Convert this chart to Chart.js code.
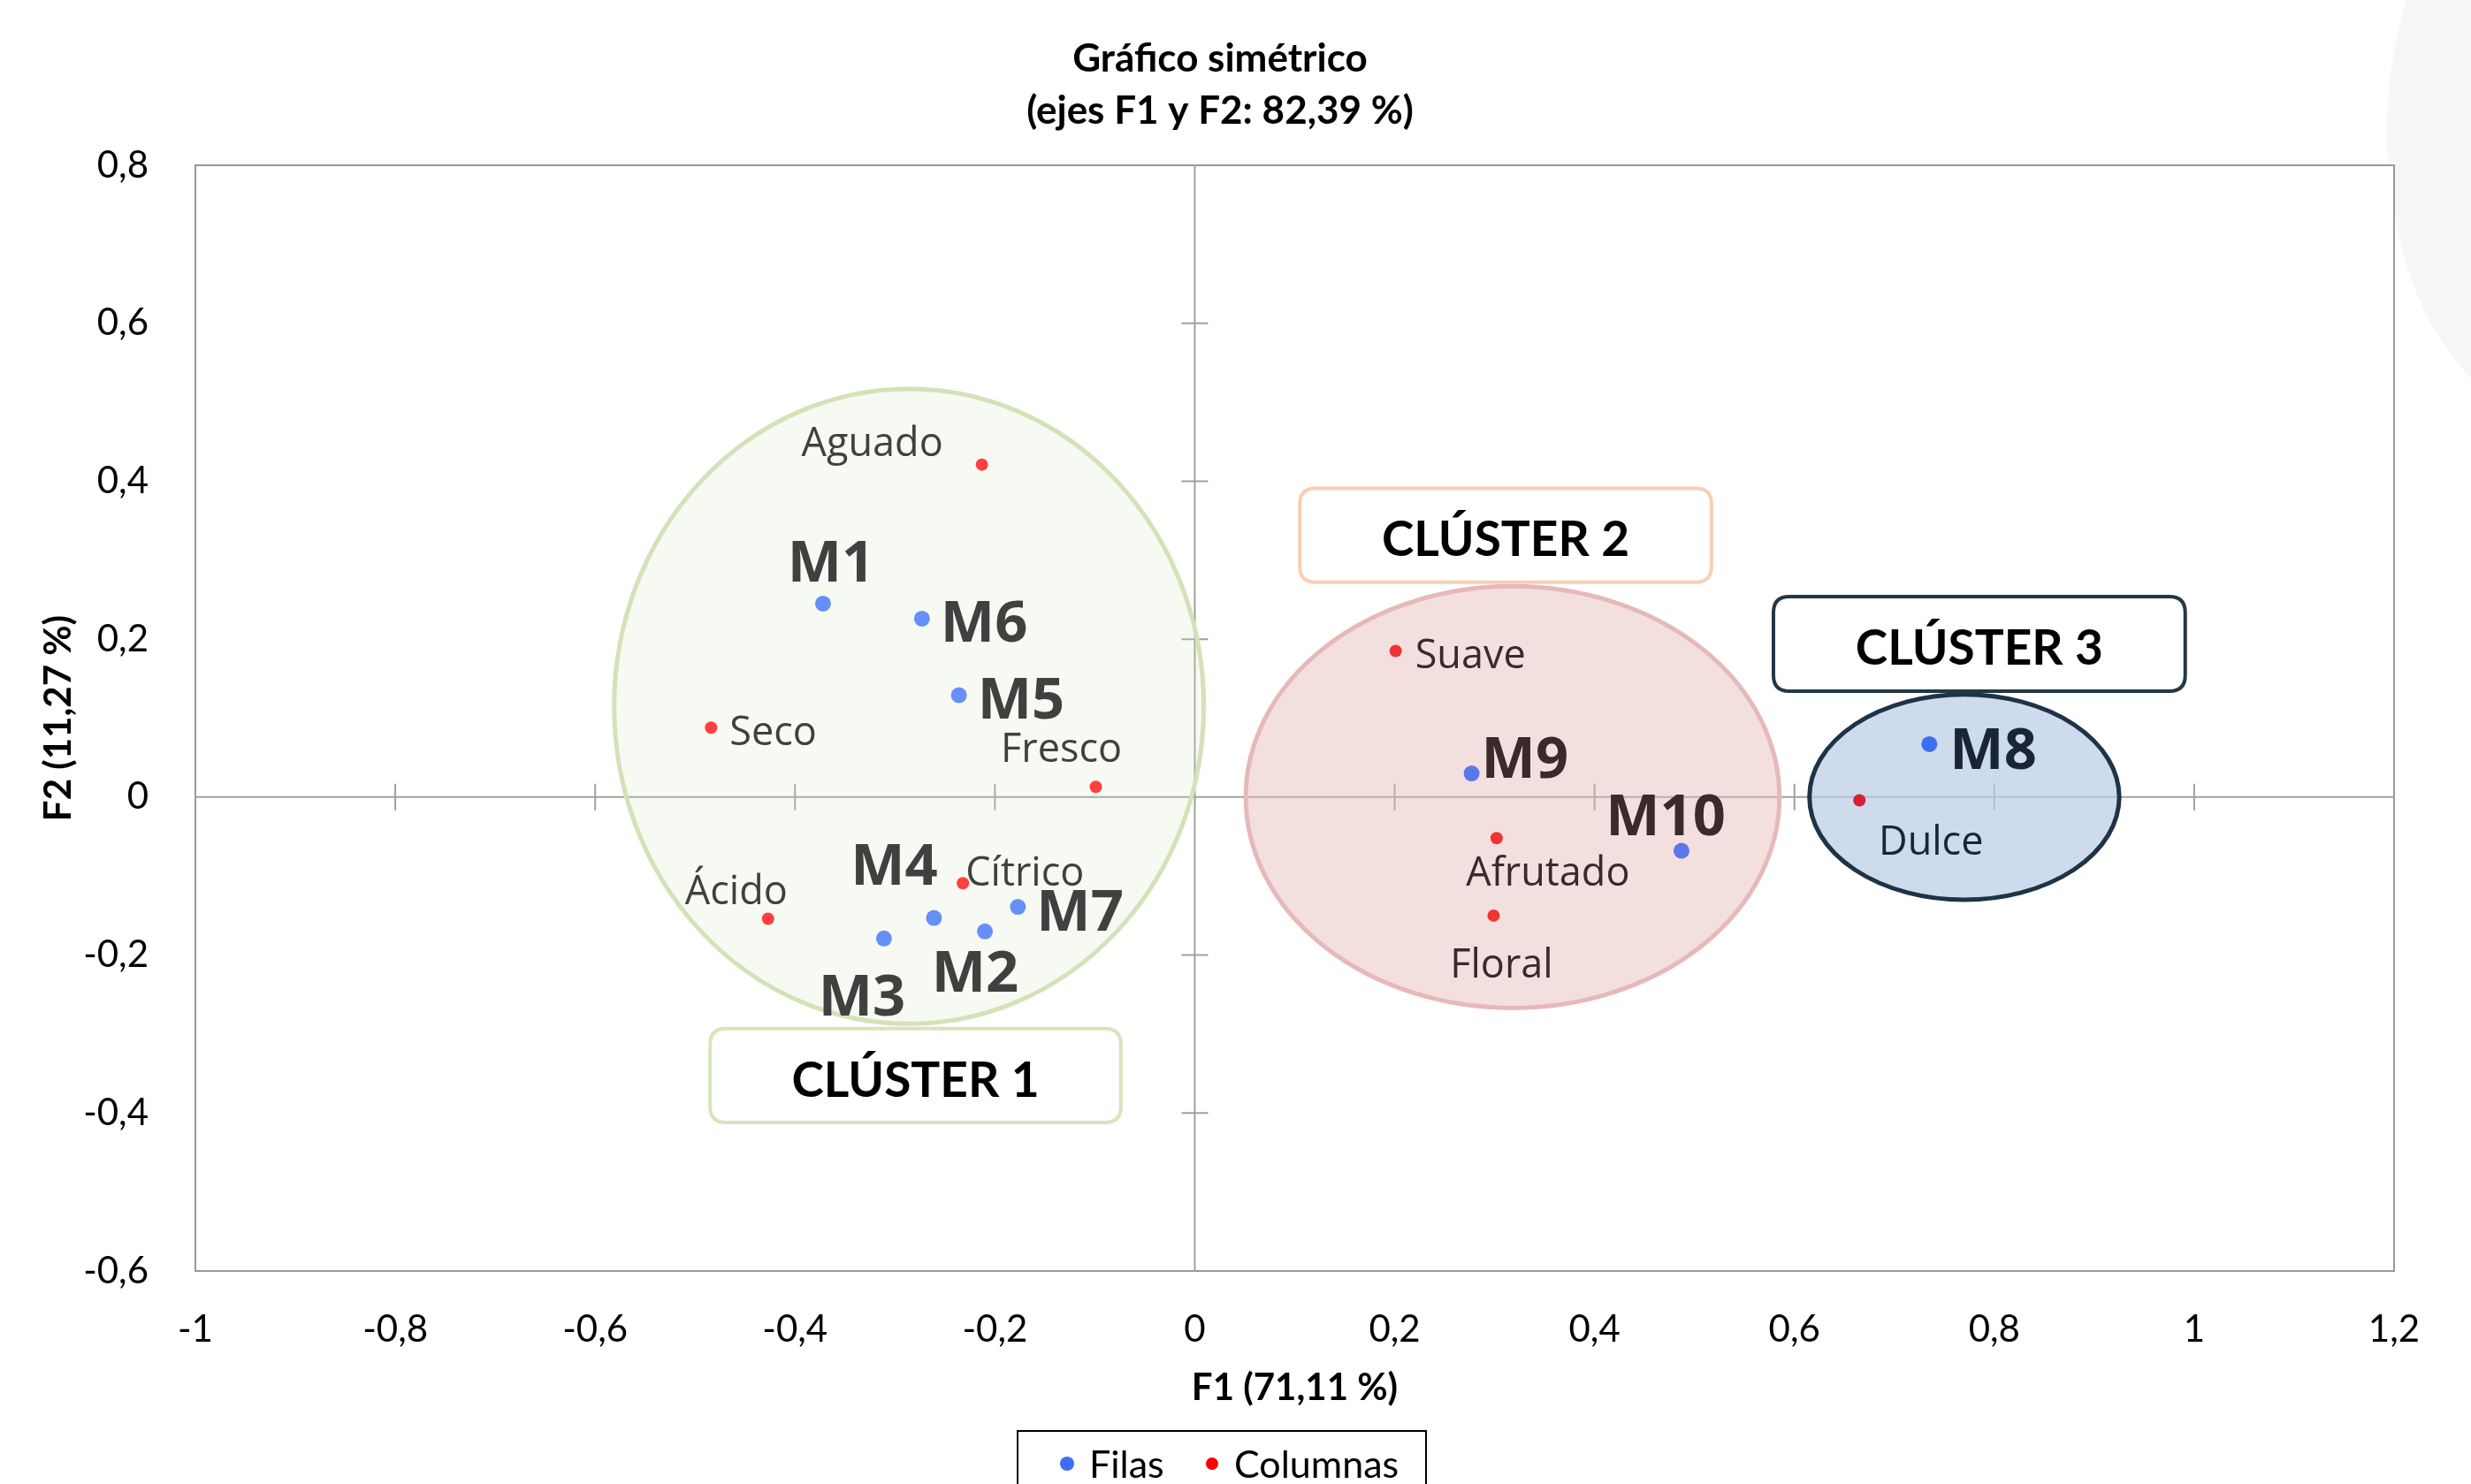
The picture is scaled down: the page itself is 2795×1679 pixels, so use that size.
<!DOCTYPE html>
<html>
<head>
<meta charset="utf-8">
<title>Gráfico simétrico</title>
<script src="https://cdn.jsdelivr.net/npm/chart.js@4.4.1/dist/chart.umd.min.js"></script>
<style>
  html, body { margin: 0; padding: 0; background: #fff; }
  canvas { display: block; }
</style>
</head>
<body>
<canvas id="chart" width="2795" height="1679"></canvas>
<script>
// Filas (muestras)
const filasLabels = ['M1', 'M2', 'M3', 'M4', 'M5', 'M6', 'M7', 'M8', 'M9', 'M10'];
const filasF1 = [-0.372, -0.210, -0.311, -0.261, -0.236, -0.273, -0.177, 0.735, 0.277, 0.487];
const filasF2 = [0.245, -0.170, -0.179, -0.153, 0.129, 0.226, -0.139, 0.067, 0.030, -0.068];
const filasCluster = [1, 1, 1, 1, 1, 1, 1, 3, 2, 2];

// Columnas (atributos)
const columnasLabels = ['Aguado', 'Seco', 'Fresco', 'Ácido', 'Cítrico', 'Suave', 'Afrutado', 'Floral', 'Dulce'];
const columnasF1 = [-0.213, -0.484, -0.099, -0.427, -0.232, 0.201, 0.302, 0.299, 0.665];
const columnasF2 = [0.421, 0.088, 0.013, -0.154, -0.109, 0.185, -0.052, -0.150, -0.004];
const columnasCluster = [1, 1, 1, 1, 1, 2, 2, 2, 3];

// ejes
const xMin = -1, xMax = 1.2, yMin = -0.6, yMax = 0.8, tickStep = 0.2;

// posición de etiquetas respecto al punto (px)
const filasLabelPos = [
  [9, -43, 'center'], [-11, 50, 'center'], [-25, 69, 'center'], [-45, -56, 'center'],
  [21, 8, 'left'], [21, 8, 'left'], [21, 8, 'left'], [23, 9, 'left'],
  [11, -14, 'left'], [-18, -36, 'center']
];
const columnasLabelPos = [
  [-124, -22, 'center'], [21, 7, 'left'], [-39, -41, 'center'], [-36, -29, 'center'],
  [3, -10, 'left'], [22, 7, 'left'], [58, 41, 'center'], [9, 57, 'center'], [81, 49, 'center']
];

// clústeres: elipse (unidades de los ejes) y recuadro del rótulo
const clusters = {
  1: { name: 'CLÚSTER 1', cx: -0.286, cy: 0.115, rx: 0.295, ry: 0.402,
       box: [-0.485, -0.293, -0.074, -0.412],
       fill: 'rgba(215,228,189,0.2)', stroke: '#d3e2b8', boxStroke: '#d7e4bd',
       blue: '#6690f8', red: '#ff4040', text: '#404040' },
  2: { name: 'CLÚSTER 2', cx: 0.318, cy: 0.0, rx: 0.267, ry: 0.267,
       box: [0.105, 0.391, 0.517, 0.272],
       fill: 'rgba(230,185,184,0.45)', stroke: '#e6b9b8', boxStroke: '#f8cfb4',
       blue: '#5a78e8', red: '#f03434', text: '#3a2a2a' },
  3: { name: 'CLÚSTER 3', cx: 0.770, cy: 0.0, rx: 0.155, ry: 0.130,
       box: [0.579, 0.254, 0.991, 0.134],
       fill: 'rgba(184,204,228,0.7)', stroke: '#1f3346', boxStroke: '#213845',
       blue: '#3c6ff0', red: '#d42030', text: '#1a2535' }
};

function fmt(v) {
  const r = Math.round(v * 10) / 10;
  return String(r).replace('.', ',');
}

function roundRect(ctx, x, y, w, h, r) {
  ctx.beginPath();
  ctx.moveTo(x + r, y);
  ctx.lineTo(x + w - r, y);
  ctx.quadraticCurveTo(x + w, y, x + w, y + r);
  ctx.lineTo(x + w, y + h - r);
  ctx.quadraticCurveTo(x + w, y + h, x + w - r, y + h);
  ctx.lineTo(x + r, y + h);
  ctx.quadraticCurveTo(x, y + h, x, y + h - r);
  ctx.lineTo(x, y + r);
  ctx.quadraticCurveTo(x, y, x + r, y);
  ctx.closePath();
}

const decor = {
  id: 'decor',
  beforeDraw(chart) {
    const ctx = chart.ctx;
    ctx.save();
    ctx.fillStyle = '#fff';
    ctx.fillRect(0, 0, chart.width, chart.height);
    // sombra gris de la esquina derecha
    ctx.fillStyle = '#f7f6f7';
    ctx.beginPath();
    ctx.ellipse(2890, 150, 190, 320, 0, 0, Math.PI * 2);
    ctx.fill();
    ctx.restore();
  },
  beforeDatasetsDraw(chart) {
    const ctx = chart.ctx, a = chart.chartArea;
    const xs = chart.scales.x, ys = chart.scales.y;
    const x0 = xs.getPixelForValue(0), y0 = ys.getPixelForValue(0);
    ctx.save();
    ctx.fillStyle = '#fff';
    ctx.fillRect(a.left, a.top, a.right - a.left, a.bottom - a.top);
    // marco
    ctx.strokeStyle = '#999';
    ctx.lineWidth = 2;
    ctx.strokeRect(a.left, a.top, a.right - a.left, a.bottom - a.top);
    // ejes en el origen
    ctx.strokeStyle = '#a0a0a0';
    ctx.lineWidth = 2;
    ctx.beginPath();
    ctx.moveTo(a.left, y0); ctx.lineTo(a.right, y0);
    ctx.moveTo(x0, a.top); ctx.lineTo(x0, a.bottom);
    xs.ticks.forEach(t => {
      if (Math.abs(t.value) < 1e-9 || t.value <= xMin + 1e-9 || t.value >= xMax - 1e-9) return;
      const px = xs.getPixelForValue(t.value);
      ctx.moveTo(px, y0 - 15); ctx.lineTo(px, y0 + 15);
    });
    ys.ticks.forEach(t => {
      if (Math.abs(t.value) < 1e-9 || t.value <= yMin + 1e-9 || t.value >= yMax - 1e-9) return;
      const py = ys.getPixelForValue(t.value);
      ctx.moveTo(x0 - 15, py); ctx.lineTo(x0 + 15, py);
    });
    ctx.stroke();
    // elipses de clústeres
    Object.values(clusters).forEach(c => {
      const cx = xs.getPixelForValue(c.cx), cy = ys.getPixelForValue(c.cy);
      const rx = Math.abs(xs.getPixelForValue(c.cx + c.rx) - cx);
      const ry = Math.abs(ys.getPixelForValue(c.cy + c.ry) - cy);
      ctx.beginPath();
      ctx.ellipse(cx, cy, rx, ry, 0, 0, Math.PI * 2);
      ctx.fillStyle = c.fill;
      ctx.fill();
      ctx.strokeStyle = c.stroke;
      ctx.lineWidth = 5;
      ctx.stroke();
    });
    ctx.restore();
  },
  afterDatasetsDraw(chart) {
    const ctx = chart.ctx, a = chart.chartArea;
    const xs = chart.scales.x, ys = chart.scales.y;
    ctx.save();
    ctx.textBaseline = 'middle';

    // etiquetas de filas
    ctx.font = 'bold 65px "Open Sans"';
    filasLabels.forEach((lab, i) => {
      const p = filasLabelPos[i];
      ctx.fillStyle = clusters[filasCluster[i]].text;
      ctx.textAlign = p[2];
      ctx.fillText(lab, xs.getPixelForValue(filasF1[i]) + p[0], ys.getPixelForValue(filasF2[i]) + p[1]);
    });
    // etiquetas de columnas
    ctx.font = '45px "Open Sans"';
    columnasLabels.forEach((lab, i) => {
      const p = columnasLabelPos[i];
      ctx.fillStyle = clusters[columnasCluster[i]].text;
      ctx.textAlign = p[2];
      ctx.fillText(lab, xs.getPixelForValue(columnasF1[i]) + p[0], ys.getPixelForValue(columnasF2[i]) + p[1]);
    });

    // recuadros de clúster
    Object.values(clusters).forEach(c => {
      const x1 = xs.getPixelForValue(c.box[0]), y1 = ys.getPixelForValue(c.box[1]);
      const x2 = xs.getPixelForValue(c.box[2]), y2 = ys.getPixelForValue(c.box[3]);
      roundRect(ctx, x1, y1, x2 - x1, y2 - y1, 18);
      ctx.fillStyle = '#fff';
      ctx.fill();
      ctx.strokeStyle = c.boxStroke;
      ctx.lineWidth = 4;
      ctx.stroke();
      ctx.fillStyle = '#000';
      ctx.font = 'bold 55px Lato';
      ctx.textAlign = 'center';
      ctx.fillText(c.name, (x1 + x2) / 2, (y1 + y2) / 2 + 6);
    });

    // título
    ctx.fillStyle = '#000';
    ctx.textAlign = 'center';
    ctx.font = 'bold 44px Lato';
    ctx.fillText('Gráfico simétrico', 1380, 67);
    ctx.fillText('(ejes F1 y F2: 82,39 %)', 1380, 126);

    // títulos de ejes
    ctx.font = 'bold 42px Lato';
    ctx.fillText('F1 (71,11 %)', (a.left + a.right) / 2, 1570);
    ctx.save();
    ctx.translate(66, (a.top + a.bottom) / 2);
    ctx.rotate(-Math.PI / 2);
    ctx.fillText('F2 (11,27 %)', 0, 0);
    ctx.restore();

    // leyenda
    ctx.strokeStyle = '#000';
    ctx.lineWidth = 2;
    ctx.strokeRect(1151, 1619, 462, 100);
    ctx.font = '43px Lato';
    ctx.textAlign = 'left';
    ctx.fillStyle = '#3d6ef5';
    ctx.beginPath(); ctx.arc(1207, 1656, 8, 0, Math.PI * 2); ctx.fill();
    ctx.fillStyle = '#ff0000';
    ctx.beginPath(); ctx.arc(1371, 1656, 7, 0, Math.PI * 2); ctx.fill();
    ctx.fillStyle = '#000';
    ctx.fillText('Filas', 1232, 1658);
    ctx.fillText('Columnas', 1396, 1658);
    ctx.restore();
  }
};

const ctx = document.getElementById('chart').getContext('2d');
new Chart(ctx, {
  type: 'scatter',
  data: {
    datasets: [
      {
        label: 'Filas',
        data: filasF1.map((x, i) => ({ x: x, y: filasF2[i] })),
        pointRadius: 9,
        pointHoverRadius: 9,
        pointBorderWidth: 0,
        pointBackgroundColor: c => clusters[filasCluster[c.dataIndex]].blue
      },
      {
        label: 'Columnas',
        data: columnasF1.map((x, i) => ({ x: x, y: columnasF2[i] })),
        pointRadius: 7,
        pointHoverRadius: 7,
        pointBorderWidth: 0,
        pointBackgroundColor: c => clusters[columnasCluster[c.dataIndex]].red
      }
    ]
  },
  options: {
    responsive: false,
    animation: false,
    devicePixelRatio: 1,
    layout: { padding: { top: 187, right: 87, left: 0, bottom: 0 } },
    plugins: {
      legend: { display: false },
      tooltip: { enabled: false }
    },
    scales: {
      x: {
        type: 'linear',
        min: xMin, max: xMax,
        grid: { display: false },
        border: { display: false },
        ticks: {
          stepSize: tickStep,
          padding: 33,
          color: '#000',
          font: { family: 'Lato', size: 42 },
          callback: v => fmt(v)
        },
        afterFit: s => { s.height = 241; }
      },
      y: {
        type: 'linear',
        min: yMin, max: yMax,
        grid: { display: false },
        border: { display: false },
        ticks: {
          stepSize: tickStep,
          padding: 45,
          color: '#000',
          font: { family: 'Lato', size: 42 },
          callback: v => fmt(v)
        },
        afterFit: s => { s.width = 221; }
      }
    }
  },
  plugins: [decor]
});
</script>
</body>
</html>
